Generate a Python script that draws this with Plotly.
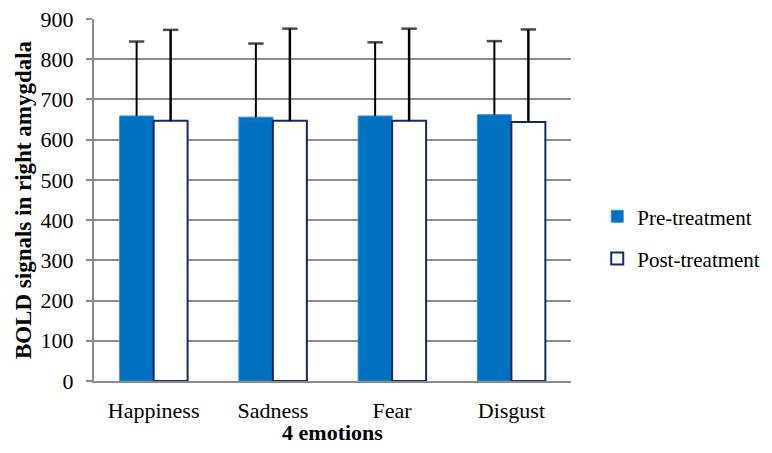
import plotly.graph_objects as go

categories = ["Happiness", "Sadness", "Fear", "Disgust"]
pre_values = [659, 656, 659, 662]
post_values = [647, 647, 647, 644]
pre_err = [185, 183, 183, 183]
post_err = [226, 229, 229, 230]
y_ticks = [0, 100, 200, 300, 400, 500, 600, 700, 800, 900]

FONT = "Liberation Serif"
BAR_W = 0.285
idx = list(range(len(categories)))


def err_arrays(centers, vals, errs):
    xs, ys, sizes = [], [], []
    for c, v, e in zip(centers, vals, errs):
        xs += [c, c, None]
        ys += [v, v + e, None]
        sizes += [0, 11, 0]
    return xs, ys, sizes


fig = go.Figure()
fig.add_trace(go.Bar(
    name="Pre-treatment", x=idx, y=pre_values, width=BAR_W, offset=-BAR_W,
    legendgroup="pre",
    marker=dict(color="#0070C0", line=dict(color="#3C8FD0", width=1)),
))
fig.add_trace(go.Bar(
    name="Post-treatment", x=idx, y=post_values, width=BAR_W, offset=0,
    legendgroup="post",
    marker=dict(color="white", line=dict(color="#14286E", width=2)),
))

for centers, vals, errs, th in [
    ([i - BAR_W / 2 for i in idx], pre_values, pre_err, 2),
    ([i + BAR_W / 2 for i in idx], post_values, post_err, 2.5),
]:
    xs, ys, sizes = err_arrays(centers, vals, errs)
    fig.add_trace(go.Scatter(
        x=xs, y=ys, mode="lines+markers", showlegend=False, hoverinfo="skip",
        line=dict(color="black", width=th),
        marker=dict(symbol="line-ew", size=sizes, color="black",
                    line=dict(color="black", width=2.5)),
    ))

fig.update_layout(
    width=756, height=437,
    margin=dict(l=86, r=193, t=11, b=64, autoexpand=False),
    paper_bgcolor="white", plot_bgcolor="white",
    font=dict(family=FONT, size=22, color="black"),
    legend=dict(x=1.055, y=0.396, xanchor="left", yanchor="middle",
                font=dict(family=FONT, size=21), tracegroupgap=12,
                itemwidth=30),
    showlegend=True,
)
fig.update_yaxes(
    range=[0, 900], tickvals=y_ticks, showgrid=True, gridcolor="#8C8C8C", gridwidth=2,
    showline=True, linecolor="#8C8C8C", linewidth=2,
    ticks="outside", ticklen=6, tickcolor="#8C8C8C", tickwidth=2,
    ticklabelstandoff=8, automargin=False, ticklabeloverflow="allow",
    zeroline=False, tickfont=dict(family=FONT, size=22),
    title=dict(text="<b>BOLD signals in right amygdala</b>", font=dict(family=FONT, size=23), standoff=3),
)
fig.update_xaxes(
    range=[-0.5, len(categories) - 0.5], tickvals=idx, ticktext=categories,
    showgrid=False, zeroline=False, automargin=False, ticklabeloverflow="allow",
    showline=True, linecolor="#8C8C8C", linewidth=2,
    ticks="", ticklabelstandoff=9, tickfont=dict(family=FONT, size=22),
    title=dict(text="<b>4 emotions</b>", font=dict(family=FONT, size=22), standoff=9),
)

fig.write_html("out.html")
